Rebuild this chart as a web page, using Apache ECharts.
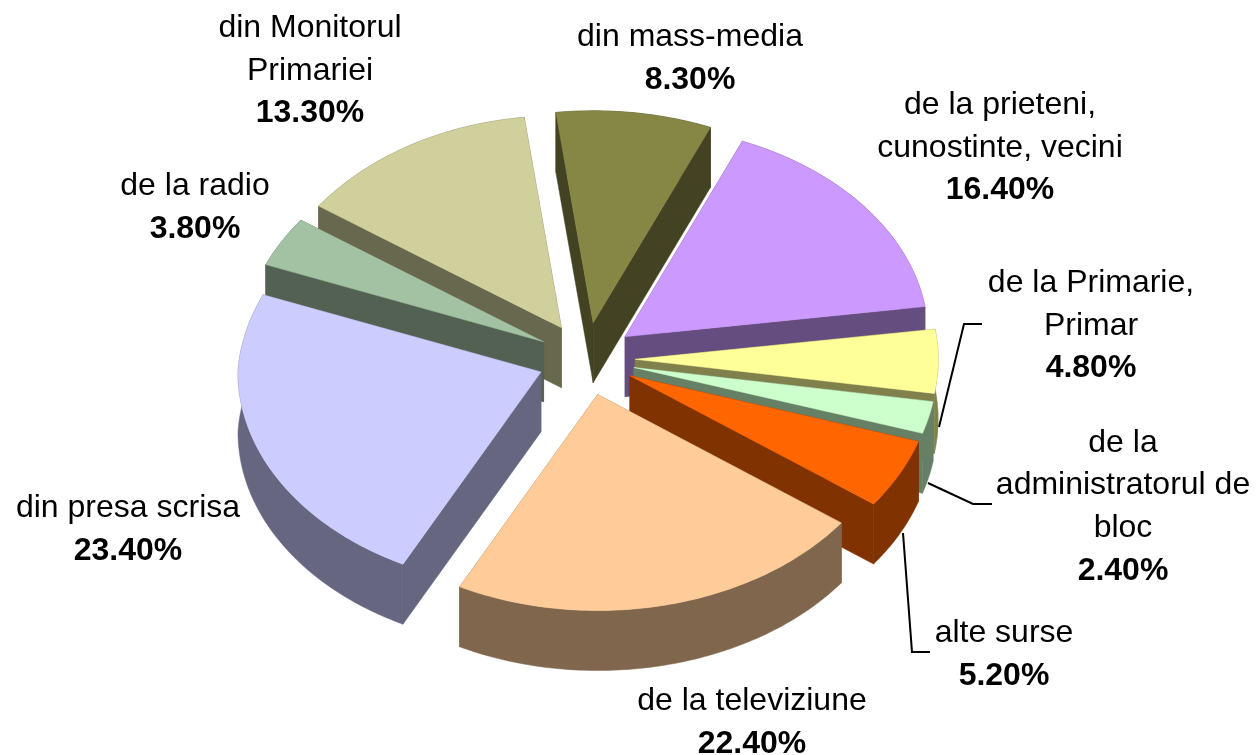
<!DOCTYPE html>
<html>
<head>
<meta charset="utf-8">
<style>html,body{margin:0;padding:0;background:#fff}#c{width:1257px;height:755px}</style>
<script src="https://cdn.jsdelivr.net/npm/echarts@6/dist/echarts.min.js"></script>
</head>
<body>
<div id="c"></div>
<script>
// ---- data (clockwise from the top of the pie) ----
const categories = [
  'din mass-media',
  'de la prieteni,\ncunostinte, vecini',
  'de la Primarie,\nPrimar',
  'de la\nadministratorul de\nbloc',
  'alte surse',
  'de la televiziune',
  'din presa scrisa',
  'de la radio',
  'din Monitorul\nPrimariei'
];
const values = [8.3, 16.4, 4.8, 2.4, 5.2, 22.4, 23.4, 3.8, 13.3];
const colors = ['#868645', '#CC99FF', '#FFFF99', '#CCFFCC', '#FF6600', '#FFCC99', '#CCCCFF', '#A3C2A3', '#D0D09C'];

// ---- layout ----
const startDeg = -7.1;
const centre = [586.5, 359], depth = 60;
const paintOrder = [8, 0, 7, 1, 6, 2, 3, 4, 5];
const labelAt = [[690, 59], [1000, 148], [1091, 326], [1123, 507], [1004, 655], [752, 723], [128, 530], [195, 208], [310, 71]];
const leaders = {
  2: [[982, 324], [964, 324], [939, 427]],
  3: [[928, 483], [973, 504], [992, 504]],
  4: [[903, 533], [912, 652], [930, 652]]
};

// slight perspective: the far half of the ellipse is a little flatter than the near half
const radiusAt = t => {
  const s = Math.sin(t), c = Math.cos(t);
  const pinch = (s < 0 && c > 0) ? -s * c * 2 : 0;
  return [303 - 7 * pinch, c > 0 ? 212 : 216];
};
const apexOf = m => [
  centre[0] + 48.7 * Math.sin(m),
  centre[1] - 36.5 * Math.cos(m)
];

const total = values.reduce((a, b) => a + b, 0);
const rad = d => d * Math.PI / 180;
const half = hex => {
  const n = parseInt(hex.slice(1), 16);
  const f = c => Math.round(c / 2);
  return `rgb(${f(n >> 16)},${f((n >> 8) & 255)},${f(n & 255)})`;
};
const spans = [];
values.reduce((acc, v, i) => {
  const sweep = v / total * 360;
  spans[i] = [acc, acc + sweep];
  return acc + sweep;
}, startDeg);

function renderSlice(params, api) {
  const i = api.value(1);
  const [a0, a1] = spans[i];
  const apex = apexOf(rad((a0 + a1) / 2));
  const arc = [];
  const steps = Math.max(2, Math.ceil(a1 - a0));
  for (let k = 0; k <= steps; k++) {
    const t = rad(a0 + (a1 - a0) * k / steps);
    const r = radiusAt(t);
    arc.push([apex[0] + r[0] * Math.sin(t), apex[1] - r[1] * Math.cos(t)]);
  }
  const down = p => [p[0], p[1] + depth];
  const wall = half(colors[i]);
  const poly = (points, fill) => ({
    type: 'polygon', shape: { points },
    style: { fill, stroke: fill, lineWidth: 0.5 }, silent: true
  });
  const children = [
    poly([apex, arc[0], down(arc[0]), down(apex)], wall),
    poly([apex, arc[steps], down(arc[steps]), down(apex)], wall),
    poly(arc.concat(arc.map(down).reverse()), wall),
    poly([apex].concat(arc), colors[i])
  ];
  if (leaders[i]) {
    children.push({
      type: 'polyline', shape: { points: leaders[i] },
      style: { fill: 'none', stroke: '#000', lineWidth: 2 }, silent: true
    });
  }
  const nameLines = categories[i].split('\n').map(s => `{n|${s}}`).join('\n');
  children.push({
    type: 'text', silent: true, z2: 10,
    x: labelAt[i][0], y: labelAt[i][1],
    style: {
      text: nameLines + `\n{v|${api.value(0).toFixed(2)}%}`,
      align: 'center', verticalAlign: 'middle',
      rich: {
        n: { fontFamily: '"Liberation Sans", Arial, sans-serif', fontSize: 32, lineHeight: 42.5, fill: '#000', align: 'center' },
        v: { fontFamily: '"Liberation Sans", Arial, sans-serif', fontSize: 32, fontWeight: 'bold', lineHeight: 43, fill: '#000', align: 'center' }
      }
    }
  });
  return { type: 'group', children };
}

const chart = echarts.init(document.getElementById('c'), null, { renderer: 'canvas' });
chart.setOption({
  backgroundColor: '#fff',
  animation: false,
  series: [{
    type: 'custom',
    coordinateSystem: 'none',
    renderItem: renderSlice,
    data: paintOrder.map(i => ({ name: categories[i], value: [values[i], i] }))
  }]
});
</script>
</body>
</html>
